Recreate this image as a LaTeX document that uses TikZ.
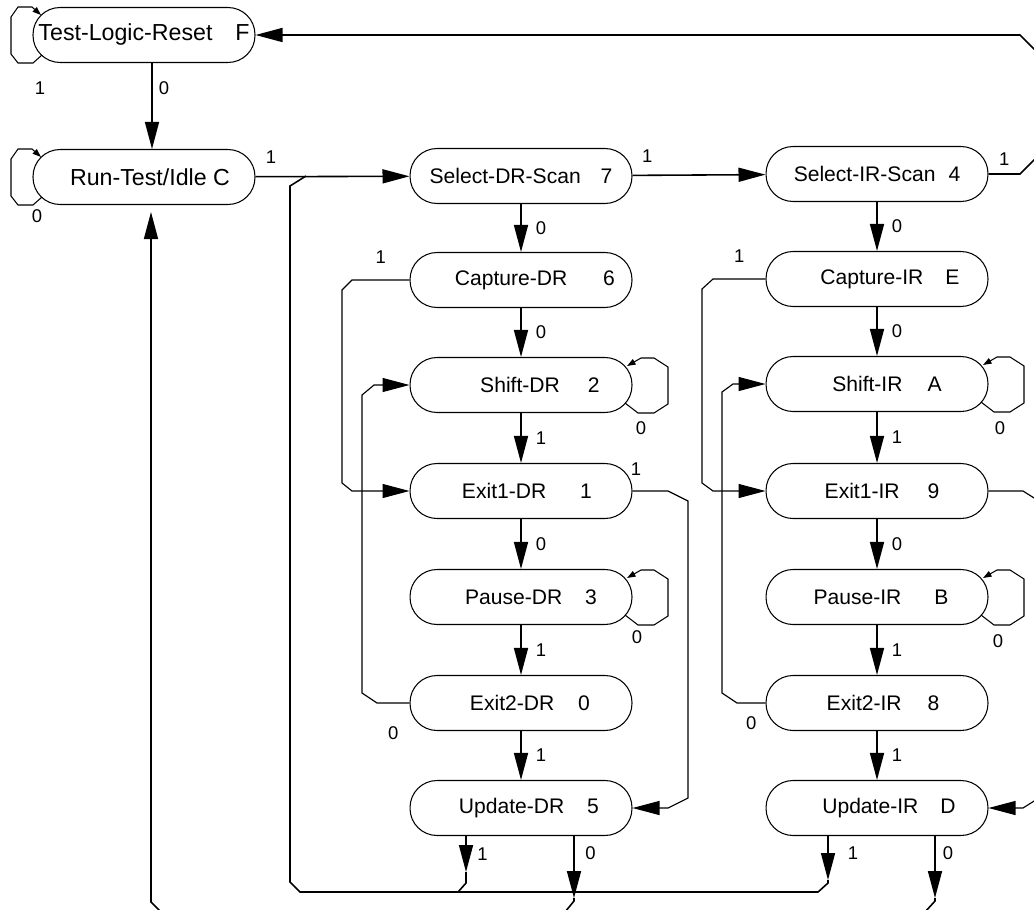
\documentclass[tikz,border=0pt]{standalone}
\usepackage{fontspec}
\setmainfont{Liberation Sans}
\usetikzlibrary{arrows.meta}
\begin{document}
\begin{tikzpicture}[x=0.02cm, y=-0.02cm,
  st/.style={draw,line width=0.6pt,rounded corners=0.54cm,minimum width=4.44cm,minimum height=1.1cm,inner sep=0pt,font=\fontsize{12}{14}\selectfont},
  bigst/.style={st,font=\fontsize{13.2}{15}\selectfont},
  tr/.style={line width=0.9pt,-{Triangle[length=0.54cm,width=0.28cm]}},
  wire/.style={line width=0.65pt},
  bus/.style={line width=0.9pt},
  lp/.style={line width=0.6pt,-{Triangle[length=0.17cm,width=0.12cm]}},
  lbl/.style={font=\fontsize{10.5}{12}\selectfont,inner sep=1pt}]
\path[use as bounding box,fill=white] (0,0) rectangle (1034,909);
\clip (0,0) rectangle (1034,909);

% states
\node[bigst] (tlr) at (144,35) {Test-Logic-Reset\hspace{13pt}F};
\node[bigst] (rti) at (144,177) {\hspace{6.8pt}Run-Test/Idle C};
\node[st] (sdr) at (521,176) {Select-DR-Scan\hspace{11.3pt}7};
\node[st] (sir) at (877,174) {Select-IR-Scan\hspace{7.4pt}4};
\node[st] (cdr) at (521,280) {\hspace{15.9pt}Capture-DR\hspace{20.4pt}6};
\node[st] (cir) at (877,279) {\hspace{14.7pt}Capture-IR\hspace{12.5pt}E};
\node[st] (shdr) at (521,385) {\hspace{21.5pt}Shift-DR\hspace{15.9pt}2};
\node[st] (shir) at (877,384) {\hspace{11.3pt}Shift-IR\hspace{14.2pt}A};
\node[st] (xadr) at (521,491) {\hspace{6.8pt}Exit1-DR\hspace{19.3pt}1};
\node[st] (xair) at (877,491) {\hspace{5.7pt}Exit1-IR\hspace{15.9pt}9};
\node[st] (pdr) at (521,597) {\hspace{11.3pt}Pause-DR\hspace{13pt}3};
\node[st] (pir) at (877,597) {\hspace{4.5pt}Pause-IR\hspace{18.7pt}B};
\node[st] (xbdr) at (521,703) {\hspace{10.2pt}Exit2-DR\hspace{13.6pt}0};
\node[st] (xbir) at (877,703) {\hspace{6.8pt}Exit2-IR\hspace{14.7pt}8};
\node[st] (udr) at (521,808) {\hspace{9pt}Update-DR\hspace{13pt}5};
\node[st] (uir) at (877,808) {\hspace{13.6pt}Update-IR\hspace{12.5pt}D};

% reset and idle
\draw[tr] ([xshift=0.16cm]tlr.south) -- ([xshift=0.16cm]rti.north) node[lbl,pos=0.29,right=2.4pt] {0};
\draw[lp] ([shift={(-102,20)}]tlr.center) -- ++(-9,8) -- ++(-15,0) -- ++(-7,-9) -- ++(0,-37) -- ++(7,-10) -- ++(14,0) -- ++(9,8);
\draw[lp] ([shift={(-102,20)}]rti.center) -- ++(-9,8) -- ++(-15,0) -- ++(-7,-9) -- ++(0,-37) -- ++(7,-10) -- ++(14,0) -- ++(9,8);
\node[lbl] (tlrlb) at (40,88) {1};
\node[lbl] (rtilb) at (37,216) {0};
\draw[tr] (rti) -- (sdr) node[lbl,pos=0.1,above=6pt] {1};
\draw[tr] (sdr) -- (sir) node[lbl,pos=0.11,above=6pt] {1};
\draw[tr] (sir.east) -- (1020,174) node[lbl,midway,above=3.5pt] {1} -- (1038,156) -- (1038,53) -- (1020,35) -- (tlr.east);

% DR column
\draw[tr] (sdr) -- (cdr) node[lbl,midway,right=7pt] {0};
\draw[tr] (cdr) -- (shdr) node[lbl,midway,right=7pt] {0};
\draw[tr] (shdr) -- (xadr) node[lbl,midway,right=7pt] {1};
\draw[tr] (xadr) -- (pdr) node[lbl,midway,right=7pt] {0};
\draw[tr] (pdr) -- (xbdr) node[lbl,midway,right=7pt] {1};
\draw[tr] (xbdr) -- (udr) node[lbl,midway,right=7pt] {1};
\draw[lp] ([shift={(104,18)}]shdr.center) -- ++(13,10) -- ++(16,0) -- ++(14,-9) -- ++(0,-37) -- ++(-14,-9) -- ++(-13,0) -- ++(-14,8);
\draw[lp] ([shift={(104,18)}]pdr.center) -- ++(13,10) -- ++(16,0) -- ++(14,-9) -- ++(0,-37) -- ++(-14,-9) -- ++(-13,0) -- ++(-14,8);
\node[lbl] (shdrlb) at (641,428) {0};
\node[lbl] (pdrlb) at (637,637) {0};
\draw[tr,wire] (cdr.west) -- (352,280) node[lbl,midway,above=8pt] {1} -- (342,290) -- (342,483) -- (352,491) -- (xadr.west);
\draw[tr,wire] (xbdr.west) -- (377,703) node[lbl,midway,below=12pt] {0} -- (362,693) -- (362,395) -- (374,385) -- (shdr.west);
\draw[tr,wire] (xadr.east) -- (668,491) node[lbl,pos=0.1,above=7.6pt] {1} -- (688,501) -- (688,798) -- (668,808) -- (udr.east);

% IR column
\draw[tr] (sir) -- (cir) node[lbl,midway,right=7pt] {0};
\draw[tr] (cir) -- (shir) node[lbl,midway,right=7pt] {0};
\draw[tr] (shir) -- (xair) node[lbl,midway,right=7pt] {1};
\draw[tr] (xair) -- (pir) node[lbl,midway,right=7pt] {0};
\draw[tr] (pir) -- (xbir) node[lbl,midway,right=7pt] {1};
\draw[tr] (xbir) -- (uir) node[lbl,midway,right=7pt] {1};
\draw[lp] ([shift={(104,18)}]shir.center) -- ++(13,10) -- ++(16,0) -- ++(14,-9) -- ++(0,-37) -- ++(-14,-9) -- ++(-13,0) -- ++(-14,8);
\draw[lp] ([shift={(104,18)}]pir.center) -- ++(13,10) -- ++(16,0) -- ++(14,-9) -- ++(0,-37) -- ++(-14,-9) -- ++(-13,0) -- ++(-14,8);
\node[lbl] (shirlb) at (1000,428) {0};
\node[lbl] (pirlb) at (998,641) {0};
\draw[tr,wire] (cir.west) -- (713,279) node[lbl,midway,above=8pt] {1} -- (702,289) -- (702,483) -- (713,491) -- (xair.west);
\draw[tr,wire] (xbir.west) -- (737,703) node[lbl,midway,below=6.5pt] {0} -- (722,693) -- (722,392) -- (733,384) -- (shir.west);
\draw[tr,wire] (xair.east) -- (1023,491) -- (1042,503) -- (1042,796) -- (1023,808) -- (uir.east);

% update exits
\draw[tr] ([xshift=-1.1cm]udr.south) -- ++(0,36) coordinate (dr1) node[lbl,midway,right=5pt] {1};
\draw[bus] (dr1) -- ++(0,11) -- ++(-8,9);
\draw[tr] ([xshift=-0.98cm]uir.south) -- ++(0,44) coordinate (ir1) node[lbl,pos=0.39,right=9.8pt] {1};
\draw[bus] (ir1) -- ++(0,3) -- ++(-10,9) -- (300,892) -- (290,882) -- (290,186) -- (306,176);
\draw[tr] ([xshift=1.06cm]udr.south) -- ++(0,62) coordinate (dr0) node[lbl,pos=0.27,right=5pt] {0};
\draw[bus] (dr0) -- ++(0,3) -- ++(-9,11);
\draw[tr] ([xshift=1.16cm]uir.south) -- ++(0,62) coordinate (ir0) node[lbl,pos=0.27,right=3pt] {0};
\draw[tr] (ir0) -- ++(0,3) -- ++(-10,11) -- (161,912) -- (151,902) -- ([xshift=0.14cm,yshift=-0.14cm]rti.south);
\end{tikzpicture}
\end{document}
